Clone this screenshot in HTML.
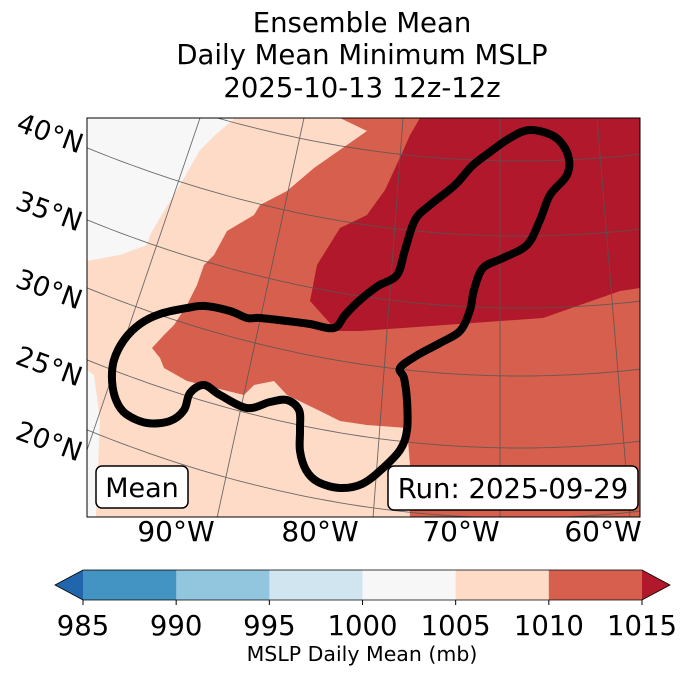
<!DOCTYPE html>
<html><head><meta charset="utf-8"><style>
body{margin:0;background:#fff;width:688px;height:674px;overflow:hidden;font-family:"DejaVu Sans","Liberation Sans",sans-serif}
svg{display:block;font-family:"DejaVu Sans","Liberation Sans",sans-serif}
</style></head><body>
<svg id="fig" width="688" height="674">
<g font-size="27.5" text-anchor="middle" fill="#000">
<text x="362" y="32">Ensemble Mean</text>
<text x="362" y="64">Daily Mean Minimum MSLP</text>
<text x="362" y="97">2025-10-13 12z-12z</text>
</g>
<defs><clipPath id="mc"><rect x="87" y="118" width="553" height="399"/></clipPath></defs>
<g clip-path="url(#mc)">
<rect x="87" y="118" width="553" height="399" fill="#fddbc7"/>
<polygon fill="#f7f7f7" points="87,118 235,118 215,135 200,150 180,185 164,211 150,235 147,245 120,255 87,261"/>
<polygon fill="#f7f7f7" points="87,370 94,375 100,420 96,517 87,517"/>
<polygon fill="#d6604d" points="340,118 367,131 314,168 287,191 260,205 254,215 227,231 214,255 204,265 197,285 187,305 174,325 164,335 152,348 160,358 164,368 187,381 244,395 254,385 274,381 287,395 320,411 340,421 367,425 407,428 410,517 640,517 640,118"/>
<polygon fill="#fddbc7" points="407,428 360,428 360,485 407,485 410,465"/>
<polygon fill="#b2182b" points="420,118 410,135 403,151 385,190 367,215 340,228 317,265 310,301 337,331 360,331 403,328 543,318 620,291 640,288 640,118"/>
<g id="grid" stroke="#555" stroke-width="0.9" fill="none" opacity="0.85"></g>
<path id="contour" fill="none" stroke="#000" stroke-width="8" stroke-linejoin="round"/>
</g>
<rect x="87" y="118" width="553" height="399" fill="none" stroke="#000" stroke-width="1"/>
<g font-size="27" text-anchor="middle" fill="#000">
<text transform="translate(47,142) rotate(20)">40°N</text>
<text transform="translate(46,220) rotate(20)">35°N</text>
<text transform="translate(46,298) rotate(20)">30°N</text>
<text transform="translate(46,375) rotate(20)">25°N</text>
<text transform="translate(46,450) rotate(20)">20°N</text>
</g>
<g font-size="28" text-anchor="middle" fill="#000">
<text x="176" y="541">90°W</text>
<text x="320" y="541">80°W</text>
<text x="461" y="541">70°W</text>
<text x="603" y="541">60°W</text>
</g>
<g>
<rect x="96" y="466" width="92" height="42" rx="6" fill="#fff" stroke="#000" stroke-width="1.5"/>
<text x="142" y="497" font-size="27" text-anchor="middle">Mean</text>
</g>
<g>
<rect x="388" y="466" width="250" height="44" rx="6" fill="#fff" stroke="#000" stroke-width="1.5"/>
<text x="513" y="498" font-size="27.5" text-anchor="middle">Run: 2025-09-29</text>
</g>
<g id="cbar"></g>
<text x="362" y="661" font-size="20.5" text-anchor="middle">MSLP Daily Mean (mb)</text>
</svg>
<script>
const levels=[985,990,995,1000,1005,1010,1015];
const levelColors=["#4393c3","#92c5de","#d1e5f0","#f7f7f7","#fddbc7","#d6604d"];
const underColor="#2166ac", overColor="#b2182b";
const latArcs=[90,161,236,308,376,448,518];
const contourPts=[[124,340],[114,360],[112,380],[116,400],[126,414],[147,423],[170,421],[184,410],[190,393],[204,385],[220,395],[247,408],[270,402],[287,400],[299,410],[300,430],[300,451],[306,470],[318,482],[340,488],[362,484],[382,469],[400,450],[407,430],[407,400],[404,378],[400,368],[416,356],[440,343],[460,331],[470,310],[474,290],[483,268],[503,258],[527,245],[540,220],[550,195],[567,175],[568,155],[555,137],[530,130],[510,138],[490,152],[472,166],[455,185],[430,205],[415,220],[405,250],[397,275],[378,286],[360,300],[345,315],[334,328],[310,324],[287,321],[260,318],[247,318],[230,311],[205,306],[187,308],[160,314],[140,324]];
const NS="http://www.w3.org/2000/svg";
const cx0=83,cx1=642,cy0=570,cy1=600;
const sx=v=>cx0+(v-levels[0])/(levels[levels.length-1]-levels[0])*(cx1-cx0);
const cb=document.getElementById('cbar');
function mk(t,a){const e=document.createElementNS(NS,t);for(const k in a)e.setAttribute(k,a[k]);return e;}
levelColors.forEach((c,i)=>{
 const r=mk('rect',{x:sx(levels[i]),y:cy0,width:sx(levels[i+1])-sx(levels[i])+0.5,height:cy1-cy0,fill:c});
 
 
 cb.appendChild(r);
});
const lo=mk('polygon',{points:`${cx0},${cy0} ${cx0},${cy1} 55,${(cy0+cy1)/2}`,fill:underColor});


cb.appendChild(lo);
const hi=mk('polygon',{points:`${cx1},${cy0} ${cx1},${cy1} 670,${(cy0+cy1)/2}`,fill:overColor});


cb.appendChild(hi);
cb.appendChild(mk('polygon',{points:`55,${(cy0+cy1)/2} ${cx0},${cy0} ${cx1},${cy0} 670,${(cy0+cy1)/2} ${cx1},${cy1} ${cx0},${cy1}`,fill:'none',stroke:'#000','stroke-width':0.8}));
levels.forEach(v=>{
 cb.appendChild(mk('line',{x1:sx(v),x2:sx(v),y1:cy1,y2:cy1+5,stroke:'#000'}));
 const t=mk('text',{x:sx(v),y:cy1+35,'font-size':27.5,'text-anchor':'middle'});
 t.textContent=v;
 
 
 cb.appendChild(t);
});
const g=document.getElementById('grid');
latArcs.forEach(yc=>{
 let d='';
 for(let x=80;x<=650;x+=10){const y=yc-0.00047*(x-520)*(x-520);d+=(x===80?'M':'L')+x+','+y.toFixed(1);}
 const p=mk('path',{d});
 
 
 g.appendChild(p);
});
[[200,118,87,450],[304,118,217,518],[403,118,373,518],[500,118,500,518],[597,118,630,518]].forEach(m=>{
 const l=mk('line',{x1:m[0],y1:m[1],x2:m[2],y2:m[3]});
 
 
 g.appendChild(l);
});
(function(){
 const P=contourPts,n=P.length;let d='M'+P[0][0]+','+P[0][1];
 for(let i=0;i<n;i++){
  const p0=P[(i-1+n)%n],p1=P[i],p2=P[(i+1)%n],p3=P[(i+2)%n];
  const c1=[p1[0]+(p2[0]-p0[0])/6,p1[1]+(p2[1]-p0[1])/6];
  const c2=[p2[0]-(p3[0]-p1[0])/6,p2[1]-(p3[1]-p1[1])/6];
  d+=`C${c1[0].toFixed(1)},${c1[1].toFixed(1)} ${c2[0].toFixed(1)},${c2[1].toFixed(1)} ${p2[0]},${p2[1]}`;
 }
 document.getElementById('contour').setAttribute('d',d+'Z');
})();
</script>
</body></html>
